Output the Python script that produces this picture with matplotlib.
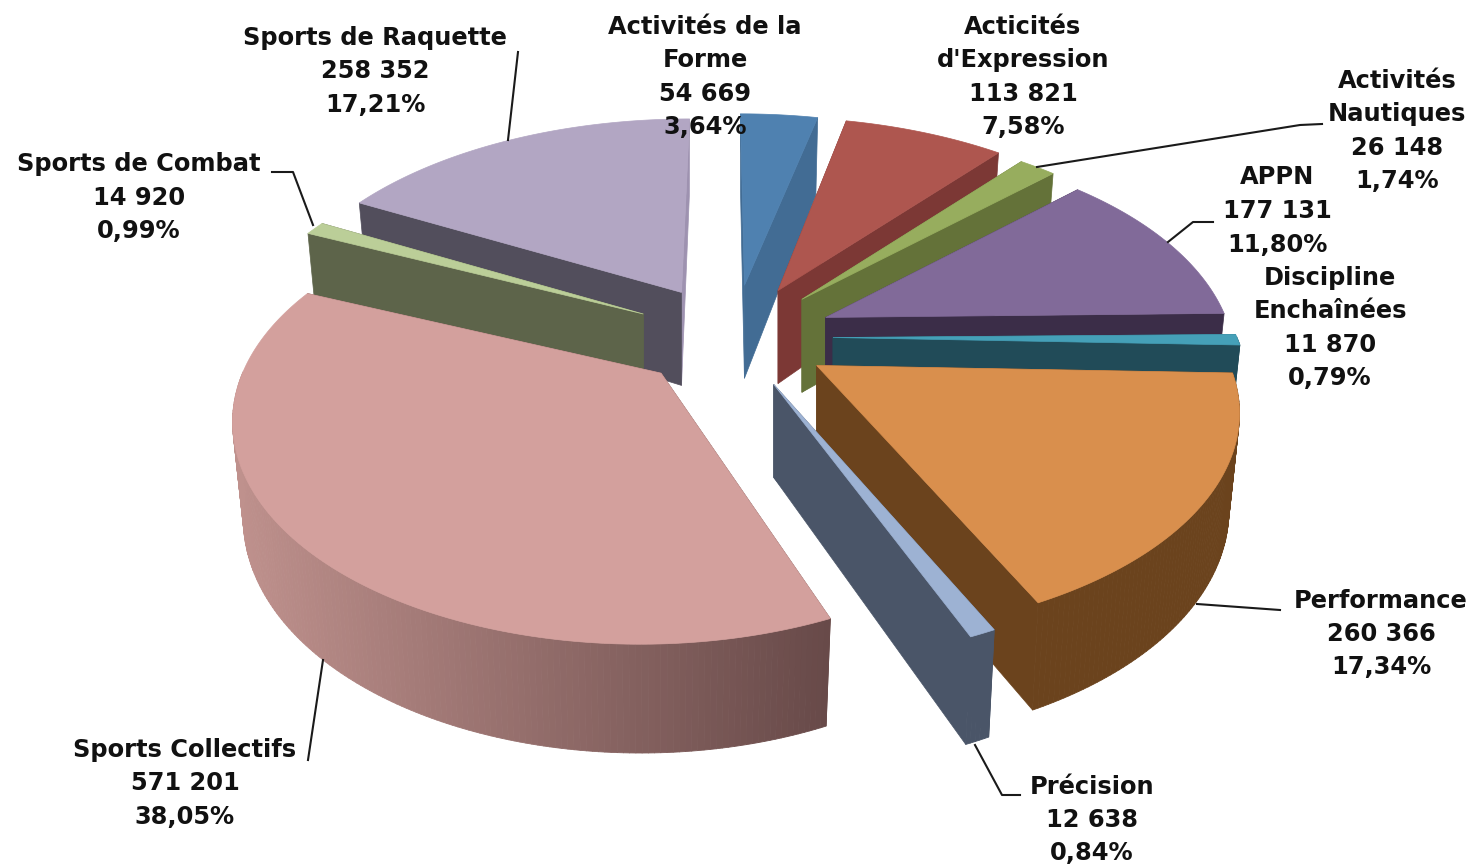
import numpy as np
import matplotlib
matplotlib.use('Agg')
import matplotlib.pyplot as plt
from matplotlib.collections import PolyCollection
from matplotlib.colors import to_rgb

# donnees
noms = ['Activités de la\nForme', "Acticités\nd'Expression", 'Activités\nNautiques', 'APPN',
        'Discipline\nEnchaînées', 'Performance', 'Précision', 'Sports Collectifs',
        'Sports de Combat', 'Sports de Raquette']
effectifs = [54669, 113821, 26148, 177131, 11870, 260366, 12638, 571201, 14920, 258352]
pourcents = [3.64, 7.58, 1.74, 11.80, 0.79, 17.34, 0.84, 38.05, 0.99, 17.21]

dessus = ['#4F81B0', '#AE564F', '#97AD5E', '#816A99', '#45A0B8',
          '#D98F4D', '#9DB2D3', '#D3A09D', '#BBCE98', '#B2A6C3']
cote = ['#426C94', '#7C3835', '#647239', '#3B2D48', '#214B58',
        '#6B431D', '#4A5568', '#6A4B48', '#5D644A', '#524E5C']

# position du texte des etiquettes (centre du bloc)
pos_x = [705, 1023, 1397, 1277, 1330, 1381, 1092, 185, 139, 375]
pos_y = [77, 77, 131, 211, 328, 634, 820, 783, 198, 71]

traits = [
    [(518, 52), (508, 140)],
    [(272, 172), (293, 172), (313, 225)],
    [(1322, 124), (1300, 125), (1037, 167)],
    [(1168, 242), (1193, 222), (1213, 222)],
    [(1197, 604), (1280, 610)],
    [(975, 745), (1002, 795), (1020, 795)],
    [(323, 660), (308, 760)],
]

# geometrie du camembert 3D
cx, cy = 733, 337
ex, ey = 100, 52
A, B, p = 412, 212, 0.215
h = 93
fuite = 0.025
ordre = [0, 9, 1, 8, 2, 3, 4, 5, 6, 7]
# petits reglages du contour de chaque part (perspective excel)
echelle = [1, 1, 1, 0.98, 1, 1, 1, 0.966, 1, 1]
decal_x = [-4, -9, -10, -4, -8, 1, 0, -21, 9, 8]
decal_y = [3, 1, 1, -1, 0, 0, 8, 1, 0, 1]


def bord(t, ax0, ay0, i):
    u = np.sin(t)
    v = -np.cos(t)
    return ax0 + decal_x[i] + echelle[i] * A * u / (1 - p * v), ay0 + decal_y[i] + B * v / (1 - p * v), v


def bas(x, y, v, ax0):
    return x - fuite * (x - ax0), y + h * (1 + 0.17 * v)


fig, ax = plt.subplots(figsize=(14.76, 8.67), dpi=100)
fig.subplots_adjust(0, 0, 1, 1)
ax.set_xlim(0, 1476)
ax.set_ylim(867, 0)
ax.axis('off')

total = sum(effectifs)
fractions = np.array(effectifs) / total
debuts = 2 * np.pi * np.concatenate([[0], np.cumsum(fractions)[:-1]])
fins = 2 * np.pi * np.cumsum(fractions)

z = 1
for i in ordre:
    t0, t1 = debuts[i], fins[i]
    mid = (t0 + t1) / 2
    ax0 = cx + ex * np.sin(mid)
    ay0 = cy - ey * np.cos(mid)
    ts = np.linspace(t0, t1, max(int((t1 - t0) * 80), 6))
    xs, ys, vs = bord(ts, ax0, ay0, i)
    xb, yb = bas(xs, ys, vs, ax0)

    # faces coupees
    c_fin = '#9E92B0' if i == 9 else cote[i]
    ax.fill([ax0, xs[-1], xb[-1], ax0], [ay0, ys[-1], yb[-1], ay0 + h],
            color=c_fin, lw=0.5, zorder=z)
    ax.fill([ax0, xs[0], xb[0], ax0], [ay0, ys[0], yb[0], ay0 + h],
            color=cote[i], lw=0.5, zorder=z + 1)

    # paroi exterieure, seulement le devant
    quads = []
    couleurs = []
    for k in range(len(ts) - 1):
        if vs[k] < 0 and vs[k + 1] < 0:
            continue
        quads.append([(xs[k], ys[k]), (xs[k + 1], ys[k + 1]), (xb[k + 1], yb[k + 1]), (xb[k], yb[k])])
        if i == 7:
            f = np.clip((xs[k] - 232) / (830 - 232), 0, 1)
            c = (1 - f) * np.array(to_rgb('#BF918D')) + f * np.array(to_rgb('#684A49'))
        else:
            c = np.array(to_rgb(cote[i]))
        couleurs.append(c)
    if quads:
        ax.add_collection(PolyCollection(quads, facecolors=couleurs, edgecolors=couleurs, linewidths=0.6, zorder=z + 2))

    # dessus
    ax.fill(np.r_[ax0, xs], np.r_[ay0, ys], color=dessus[i], lw=0.5, zorder=z + 3)
    z += 4

for t in traits:
    ax.plot([q[0] for q in t], [q[1] for q in t], color='#1a1a1a', lw=1.5, zorder=z)

for i in range(len(noms)):
    val = f'{effectifs[i]:,}'.replace(',', ' ')
    pct = f'{pourcents[i]:.2f}%'.replace('.', ',')
    ax.text(pos_x[i], pos_y[i], noms[i] + '\n' + val + '\n' + pct, ha='center', va='center',
            fontsize=17.4, fontweight='bold', family='DejaVu Sans', color='#111111',
            linespacing=1.5, zorder=z + 1)

plt.savefig('out.png', dpi=100)
